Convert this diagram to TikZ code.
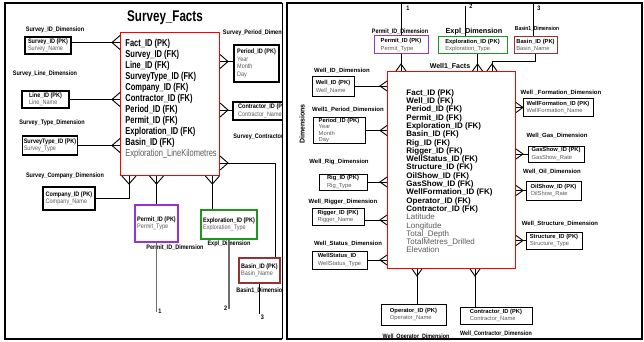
\documentclass[tikz,border=0pt]{standalone}
\usepackage{fontspec}
\setmainfont{Liberation Sans}
\newfontfamily\narrowsf[FakeStretch=0.75]{Liberation Sans}
\newfontfamily\condsf[FakeStretch=0.85]{Liberation Sans}
\usetikzlibrary{positioning}

\definecolor{factred}{RGB}{255,0,0}
\definecolor{permitpurple}{RGB}{153,51,204}
\definecolor{explgreen}{RGB}{30,150,30}
\definecolor{basinred}{RGB}{150,50,50}
\definecolor{txtgray}{RGB}{90,90,90}
\definecolor{refgray}{RGB}{110,110,110}

\tikzset{every picture/.style={line width=0.9pt}}
\tikzset{
  dimbox/.style={draw, line width=1pt, align=left, inner xsep=1pt, inner ysep=0pt},
  sdim/.style={dimbox, line width=1.2pt, font=\condsf\fontsize{6.5}{7.5}\selectfont},
  wdim/.style={dimbox, font=\fontsize{5.8}{7.5}\selectfont},
  sdimlabel/.style={inner sep=0pt, font=\condsf\bfseries\fontsize{6.5}{7}\selectfont},
  wdimlabel/.style={inner sep=0pt, font=\bfseries\fontsize{6}{7}\selectfont},
  factbox/.style={draw=factred, line width=1pt, anchor=north west, inner sep=0pt},
  factrows/.style={anchor=north west, inner sep=0pt, align=left},
  refline/.style={line width=1.5pt, draw=refgray},
  refnum/.style={inner sep=1pt, font=\condsf\bfseries\fontsize{6.5}{7}\selectfont},
}
% crow's foot: point, direction, length, half width
\newcommand{\crowfoot}[4]{\draw[shift={#1}, rotate=#2] (0,-#4) -- (#3,0) -- (0,#4);}

\begin{document}
\begin{tikzpicture}[x=1pt,y=-1pt]
\useasboundingbox (0,0) rectangle (644,342);

% panel frames
\draw[line width=2.5pt] (282,3) -- (5,3) -- (5,339) -- (282,339);
\draw[line width=0.6pt] (282,3) -- (282,339);
\draw[line width=2.5pt] (287,3) rectangle (642,339);

%%%%%%%%%%%%%%%% Survey star
\begin{scope}
\clip (5,3) rectangle (282,339);

\node[inner sep=0pt, font=\narrowsf\bfseries\fontsize{15.5}{17}\selectfont] (stitle) at (165,18) {Survey\_Facts};

% fact table
\node[factbox, minimum width=99pt, minimum height=143pt] (sfacts) at (120,32) {};
\node[factrows, font=\narrowsf\bfseries\fontsize{10}{11}\selectfont] (sfactsrows) at ([xshift=5pt,yshift=-7pt]sfacts.north west)
  {Fact\_ID (PK)\\Survey\_ID (FK)\\Line\_ID (FK)\\SurveyType\_ID (FK)\\Company\_ID (FK)\\Contractor\_ID (FK)\\Period\_ID (FK)\\Permit\_ID (FK)\\Exploration\_ID (FK)\\Basin\_ID (FK)\\{\mdseries\color{txtgray}Exploration\_LineKilometres}};

% dimensions
\node[sdimlabel] (sidlabel) at (55,30) {Survey\_ID\_Dimension};
\node[sdim, minimum width=46pt, minimum height=17pt] (sid) at (48,45.5) {\textbf{Survey\_ID (PK)}\\\textcolor{txtgray}{Survey\_Name}};

\node[sdimlabel] (lidlabel) at (45,74) {Survey\_Line\_Dimension};
\node[sdim, minimum width=47pt, minimum height=17pt] (lid) at (45.5,99.5) {\textbf{Line\_ID (PK)}\\\textcolor{txtgray}{Line\_Name}};

\node[sdimlabel] (stidlabel) at (52,123) {Survey\_Type\_Dimension};
\node[sdim, minimum width=54pt, minimum height=19pt] (stid) at (50,145.5) {\textbf{SurveyType\_ID (PK)}\\\textcolor{txtgray}{Survey\_Type}};

\node[sdimlabel] (cidlabel) at (65,176) {Survey\_Company\_Dimension};
\node[sdim, minimum width=52pt, minimum height=23pt] (cid) at (69,198.5) {\textbf{Company\_ID (PK)}\\\textcolor{txtgray}{Company\_Name}};

\node[sdimlabel] (pidlabel) at (258,33) {Survey\_Period\_Dimension};
\node[sdim, minimum width=45pt, minimum height=37pt] (pid) at (256.5,63.5) {\textbf{Period\_ID (PK)}\\\textcolor{txtgray}{Year}\\\textcolor{txtgray}{Month}\\\textcolor{txtgray}{Day}};

\node[sdim, minimum width=60pt, minimum height=18pt] (conid) at (263,111) {\textbf{Contractor\_ID (PK)}\\\textcolor{txtgray}{Contractor\_Name}};
\node[sdimlabel, anchor=west] (conidlabel) at (233,137) {Survey\_Contractor\_Dimension};

\node[sdim, draw=permitpurple, minimum width=43pt, minimum height=37pt] (permit) at (156.5,223.5) {\textbf{Permit\_ID (PK)}\\\textcolor{txtgray}{Permit\_Type}};
\node[sdimlabel] (permitlabel) at (175,248) {Permit\_ID\_Dimension};

\node[sdim, draw=explgreen, minimum width=56pt, minimum height=29pt] (expl) at (229,224.5) {\textbf{Exploration\_ID (PK)}\\\textcolor{txtgray}{Exploration\_Type}};
\node[sdimlabel] (expllabel) at (229,244) {Expl\_Dimension};

\node[sdim, draw=basinred, minimum width=41pt, minimum height=25pt] (basin) at (259.5,270.5) {\textbf{Basin\_ID (PK)}\\\textcolor{txtgray}{Basin\_Name}};
\node[sdimlabel] (basinlabel) at (261,291) {Basin1\_Dimension};

% connectors
\coordinate (sidc) at ([yshift=3pt]sid.east);
\draw (sidc) -- (sidc -| sfacts.west);
\crowfoot{(sidc -| sfacts.west)}{180}{8}{7}
\draw (lid.east) -- (lid.east -| sfacts.west);
\crowfoot{(lid.east -| sfacts.west)}{180}{8}{7}
\draw (stid.east) -- (stid.east -| sfacts.west);
\crowfoot{(stid.east -| sfacts.west)}{180}{8}{7}
\coordinate (cidc) at ([xshift=9pt]sfacts.south west);
\draw (cid.east) -| (cidc);
\crowfoot{(cidc)}{-90}{8}{7}
\coordinate (pidc) at ([yshift=2pt]pid.west);
\draw (pidc) -- (pidc -| sfacts.east);
\crowfoot{(pidc -| sfacts.east)}{0}{8}{7}
\coordinate (conc) at ([yshift=1pt]conid.west);
\draw (conc) -- (conc -| sfacts.east);
\crowfoot{(conc -| sfacts.east)}{0}{8}{7}
\coordinate (basc) at ([yshift=13pt]sfacts.south east);
\draw (basc) -| ([xshift=-5pt]basin.north east);
\crowfoot{(basc)}{0}{8}{7}
\draw (permit.north) -- (permit.north |- sfacts.south);
\crowfoot{(permit.north |- sfacts.south)}{-90}{8}{7}
\coordinate (explc) at ([xshift=12pt]expl.north west);
\draw (explc) -- (explc |- sfacts.south);
\crowfoot{(explc |- sfacts.south)}{-90}{8}{7}

% links to the well star
\draw[refline] (permit.south) -- ++(0,69) node[refnum, right] (sref1) {1};
\draw[refline] (expl.south) -- ++(0,69) node[refnum, left] (sref2) {2};
\draw (basin.south) -- ++(0,30) node[refnum, below right] (sref3) {3};
\end{scope}

%%%%%%%%%%%%%%%% Well star
\node[inner sep=0pt, rotate=90, font=\bfseries\fontsize{7}{8}\selectfont] (wdimtitle) at (302,124) {Dimensions};

% fact table
\node[factbox, minimum width=128pt, minimum height=197pt] (wfacts) at (387,71) {};
\node[inner sep=0pt, font=\bfseries\fontsize{7}{8}\selectfont] (wfactslabel) at (450,66) {Well1\_Facts};
\node[factrows, font=\bfseries\fontsize{8}{8.3}\selectfont] (wfactsrows) at ([xshift=19pt,yshift=-18pt]wfacts.north west)
  {Fact\_ID (PK)\\Well\_ID (FK)\\Period\_ID (FK)\\Permit\_ID (FK)\\Exploration\_ID (FK)\\Basin\_ID (FK)\\Rig\_ID (FK)\\Rigger\_ID (FK)\\WellStatus\_ID (FK)\\Structure\_ID (FK)\\OilShow\_ID (FK)\\GasShow\_ID (FK)\\WellFormation\_ID (FK)\\Operator\_ID (FK)\\Contractor\_ID (FK)\\
  {\mdseries\color{txtgray}Latitude}\\{\mdseries\color{txtgray}Longitude}\\{\mdseries\color{txtgray}Total\_Depth}\\{\mdseries\color{txtgray}TotalMetres\_Drilled}\\{\mdseries\color{txtgray}Elevation}};

% dimensions, top
\node[sdimlabel, font=\condsf\bfseries\fontsize{6.4}{7}\selectfont] (wpermlabel) at (400,32) {Permit\_ID\_Dimension};
\node[wdim, draw=permitpurple, minimum width=54pt, minimum height=18pt] (wperm) at (401,45) {\textbf{Permit\_ID (PK)}\\\textcolor{txtgray}{Permit\_Type}};
\node[inner sep=0pt, font=\bfseries\fontsize{7.3}{8}\selectfont] (wexpllabel) at (474,32) {Expl\_Dimension};
\node[wdim, draw=explgreen, minimum width=69pt, minimum height=17pt] (wexpl) at (472.5,45.5) {\textbf{Exploration\_ID (PK)}\\\textcolor{txtgray}{Exploration\_Type}};
\node[sdimlabel, font=\condsf\bfseries\fontsize{5.8}{7}\selectfont] (wbasinlabel) at (537,29) {Basin1\_Dimension};
\node[wdim, draw=basinred, minimum width=43pt, minimum height=17pt] (wbasin) at (535.5,45.5) {\textbf{Basin\_ID (PK)}\\\textcolor{txtgray}{Basin\_Name}};

% dimensions, left
\node[wdimlabel] (widlabel) at (342,71) {Well\_ID\_Dimension};
\node[wdim, minimum width=42pt, minimum height=20pt] (wid) at (333,87) {\textbf{Well\_ID (PK)}\\\textcolor{txtgray}{Well\_Name}};
\node[wdimlabel] (wperlabel) at (348,110) {Well1\_Period\_Dimension};
\node[wdim, font=\fontsize{5.8}{6.6}\selectfont, minimum width=52pt, minimum height=25pt] (wper) at (339,130.5) {\textbf{Period\_ID (PK)}\\\textcolor{txtgray}{Year}\\\textcolor{txtgray}{Month}\\\textcolor{txtgray}{Day}};
\node[wdimlabel] (wriglabel) at (339,162) {Well\_Rig\_Dimension};
\node[wdim, minimum width=48pt, minimum height=16pt] (wrig) at (343,182) {\textbf{Rig\_ID (PK)}\\\textcolor{txtgray}{Rig\_Type}};
\node[wdimlabel] (wriggerlabel) at (343,202) {Well\_Rigger\_Dimension};
\node[wdim, minimum width=52pt, minimum height=17pt] (wrigger) at (338,216.5) {\textbf{Rigger\_ID (PK)}\\\textcolor{txtgray}{Rigger\_Name}};
\node[wdimlabel] (wstatlabel) at (348,244) {Well\_Status\_Dimension};
\node[wdim, minimum width=55pt, minimum height=18pt] (wstat) at (339.5,260) {\textbf{WellStatus\_ID}\\\textcolor{txtgray}{WellStatus\_Type}};

% dimensions, bottom
\node[wdim, minimum width=65pt, minimum height=21pt] (wop) at (413.5,314.5) {\textbf{Operator\_ID (PK)}\\\textcolor{txtgray}{Operator\_Name}};
\node[sdimlabel, font=\condsf\bfseries\fontsize{6.3}{7}\selectfont] (woplabel) at (416,337) {Well\_Operator\_Dimension};
\node[wdim, minimum width=72pt, minimum height=17pt] (wcon) at (496,315.5) {\textbf{Contractor\_ID (PK)}\\\textcolor{txtgray}{Contractor\_Name}};
\node[sdimlabel, font=\condsf\bfseries\fontsize{6.3}{7}\selectfont] (wconlabel) at (496,334) {Well\_Contractor\_Dimension};

% dimensions, right
\node[wdimlabel] (wformlabel) at (561,93) {Well \_Formation\_Dimension};
\node[wdim, minimum width=70pt, minimum height=17pt] (wform) at (558,107.5) {\textbf{WellFormation\_ID (PK)}\\\textcolor{txtgray}{WellFormation\_Name}};
\node[wdimlabel] (wgaslabel) at (557,136) {Well\_Gas\_Dimension};
\node[wdim, minimum width=56pt, minimum height=16pt] (wgas) at (556,154) {\textbf{GasShow\_ID (PK)}\\\textcolor{txtgray}{GasShow\_Rate}};
\node[wdimlabel] (woillabel) at (552,172) {Well\_Oil\_Dimension};
\node[wdim, minimum width=55pt, minimum height=19pt] (woil) at (553.5,190.5) {\textbf{OilShow\_ID (PK)}\\\textcolor{txtgray}{OilShow\_Rate}};
\node[wdimlabel] (wstructlabel) at (560,224) {Well\_Structure\_Dimension};
\node[wdim, minimum width=56pt, minimum height=17pt] (wstruct) at (554,240.5) {\textbf{Structure\_ID (PK)}\\\textcolor{txtgray}{Structure\_Type}};

% connectors, top
\draw (wperm.south) -- (wperm.south |- wfacts.north);
\crowfoot{(wperm.south |- wfacts.north)}{90}{7}{5}
\coordinate (wexplc) at ([xshift=5pt]wexpl.south);
\draw (wexplc) -- (wexplc |- wfacts.north);
\crowfoot{(wexplc |- wfacts.north)}{90}{7}{5}
\coordinate (wbasinc) at ([xshift=105pt]wfacts.north west);
\draw (wbasin.south) -- ++(0,7) -| (wbasinc);
\crowfoot{(wbasinc)}{90}{7}{5}

% connectors, left
\coordinate (widc) at ([yshift=1pt]wid.east);
\draw (widc) -- (widc -| wfacts.west);
\crowfoot{(widc -| wfacts.west)}{180}{7}{5}
\draw (wper.east) -- (wper.east -| wfacts.west);
\crowfoot{(wper.east -| wfacts.west)}{180}{7}{5}
\draw (wrig.east) -- (wrig.east -| wfacts.west);
\crowfoot{(wrig.east -| wfacts.west)}{180}{7}{5}
\coordinate (wriggerc) at ([yshift=-3.5pt]wrigger.east);
\draw (wriggerc) -- (wriggerc -| wfacts.west);
\crowfoot{(wriggerc -| wfacts.west)}{180}{7}{5}
\draw (wstat.east) -- (wstat.east -| wfacts.west);
\crowfoot{(wstat.east -| wfacts.west)}{180}{7}{5}

% connectors, bottom
\coordinate (wopc) at ([xshift=3.5pt]wop.north);
\draw (wopc) -- (wopc |- wfacts.south);
\crowfoot{(wopc |- wfacts.south)}{-90}{7}{5}
\coordinate (wconc) at ([xshift=-21pt]wcon.north);
\draw (wconc) -- (wconc |- wfacts.south);
\crowfoot{(wconc |- wfacts.south)}{-90}{7}{5}

% connectors, right
\draw (wform.west) -- (wform.west -| wfacts.east);
\crowfoot{(wform.west -| wfacts.east)}{0}{7}{5}
\draw (wgas.west) -- (wgas.west -| wfacts.east);
\crowfoot{(wgas.west -| wfacts.east)}{0}{7}{5}
\draw (woil.west) -- (woil.west -| wfacts.east);
\crowfoot{(woil.west -| wfacts.east)}{0}{7}{5}
\draw (wstruct.west) -- (wstruct.west -| wfacts.east);
\crowfoot{(wstruct.west -| wfacts.east)}{0}{7}{5}

% links from the survey star
\coordinate (wtop) at (288,3);
\draw (wperm.north) -- (wperm.north |- wtop);
\node[refnum, anchor=west] (wref1) at (405,8) {1};
\draw ([xshift=-7.5pt]wexpl.north) -- ++(0,-30) node[refnum, anchor=west, xshift=3pt] (wref2) {2};
\coordinate (wbasintop) at ([xshift=-2.5pt]wbasin.north);
\draw (wbasintop) -- (wbasintop |- wtop);
\node[refnum, anchor=west] (wref3) at (536,8) {3};

\end{tikzpicture}
\end{document}
